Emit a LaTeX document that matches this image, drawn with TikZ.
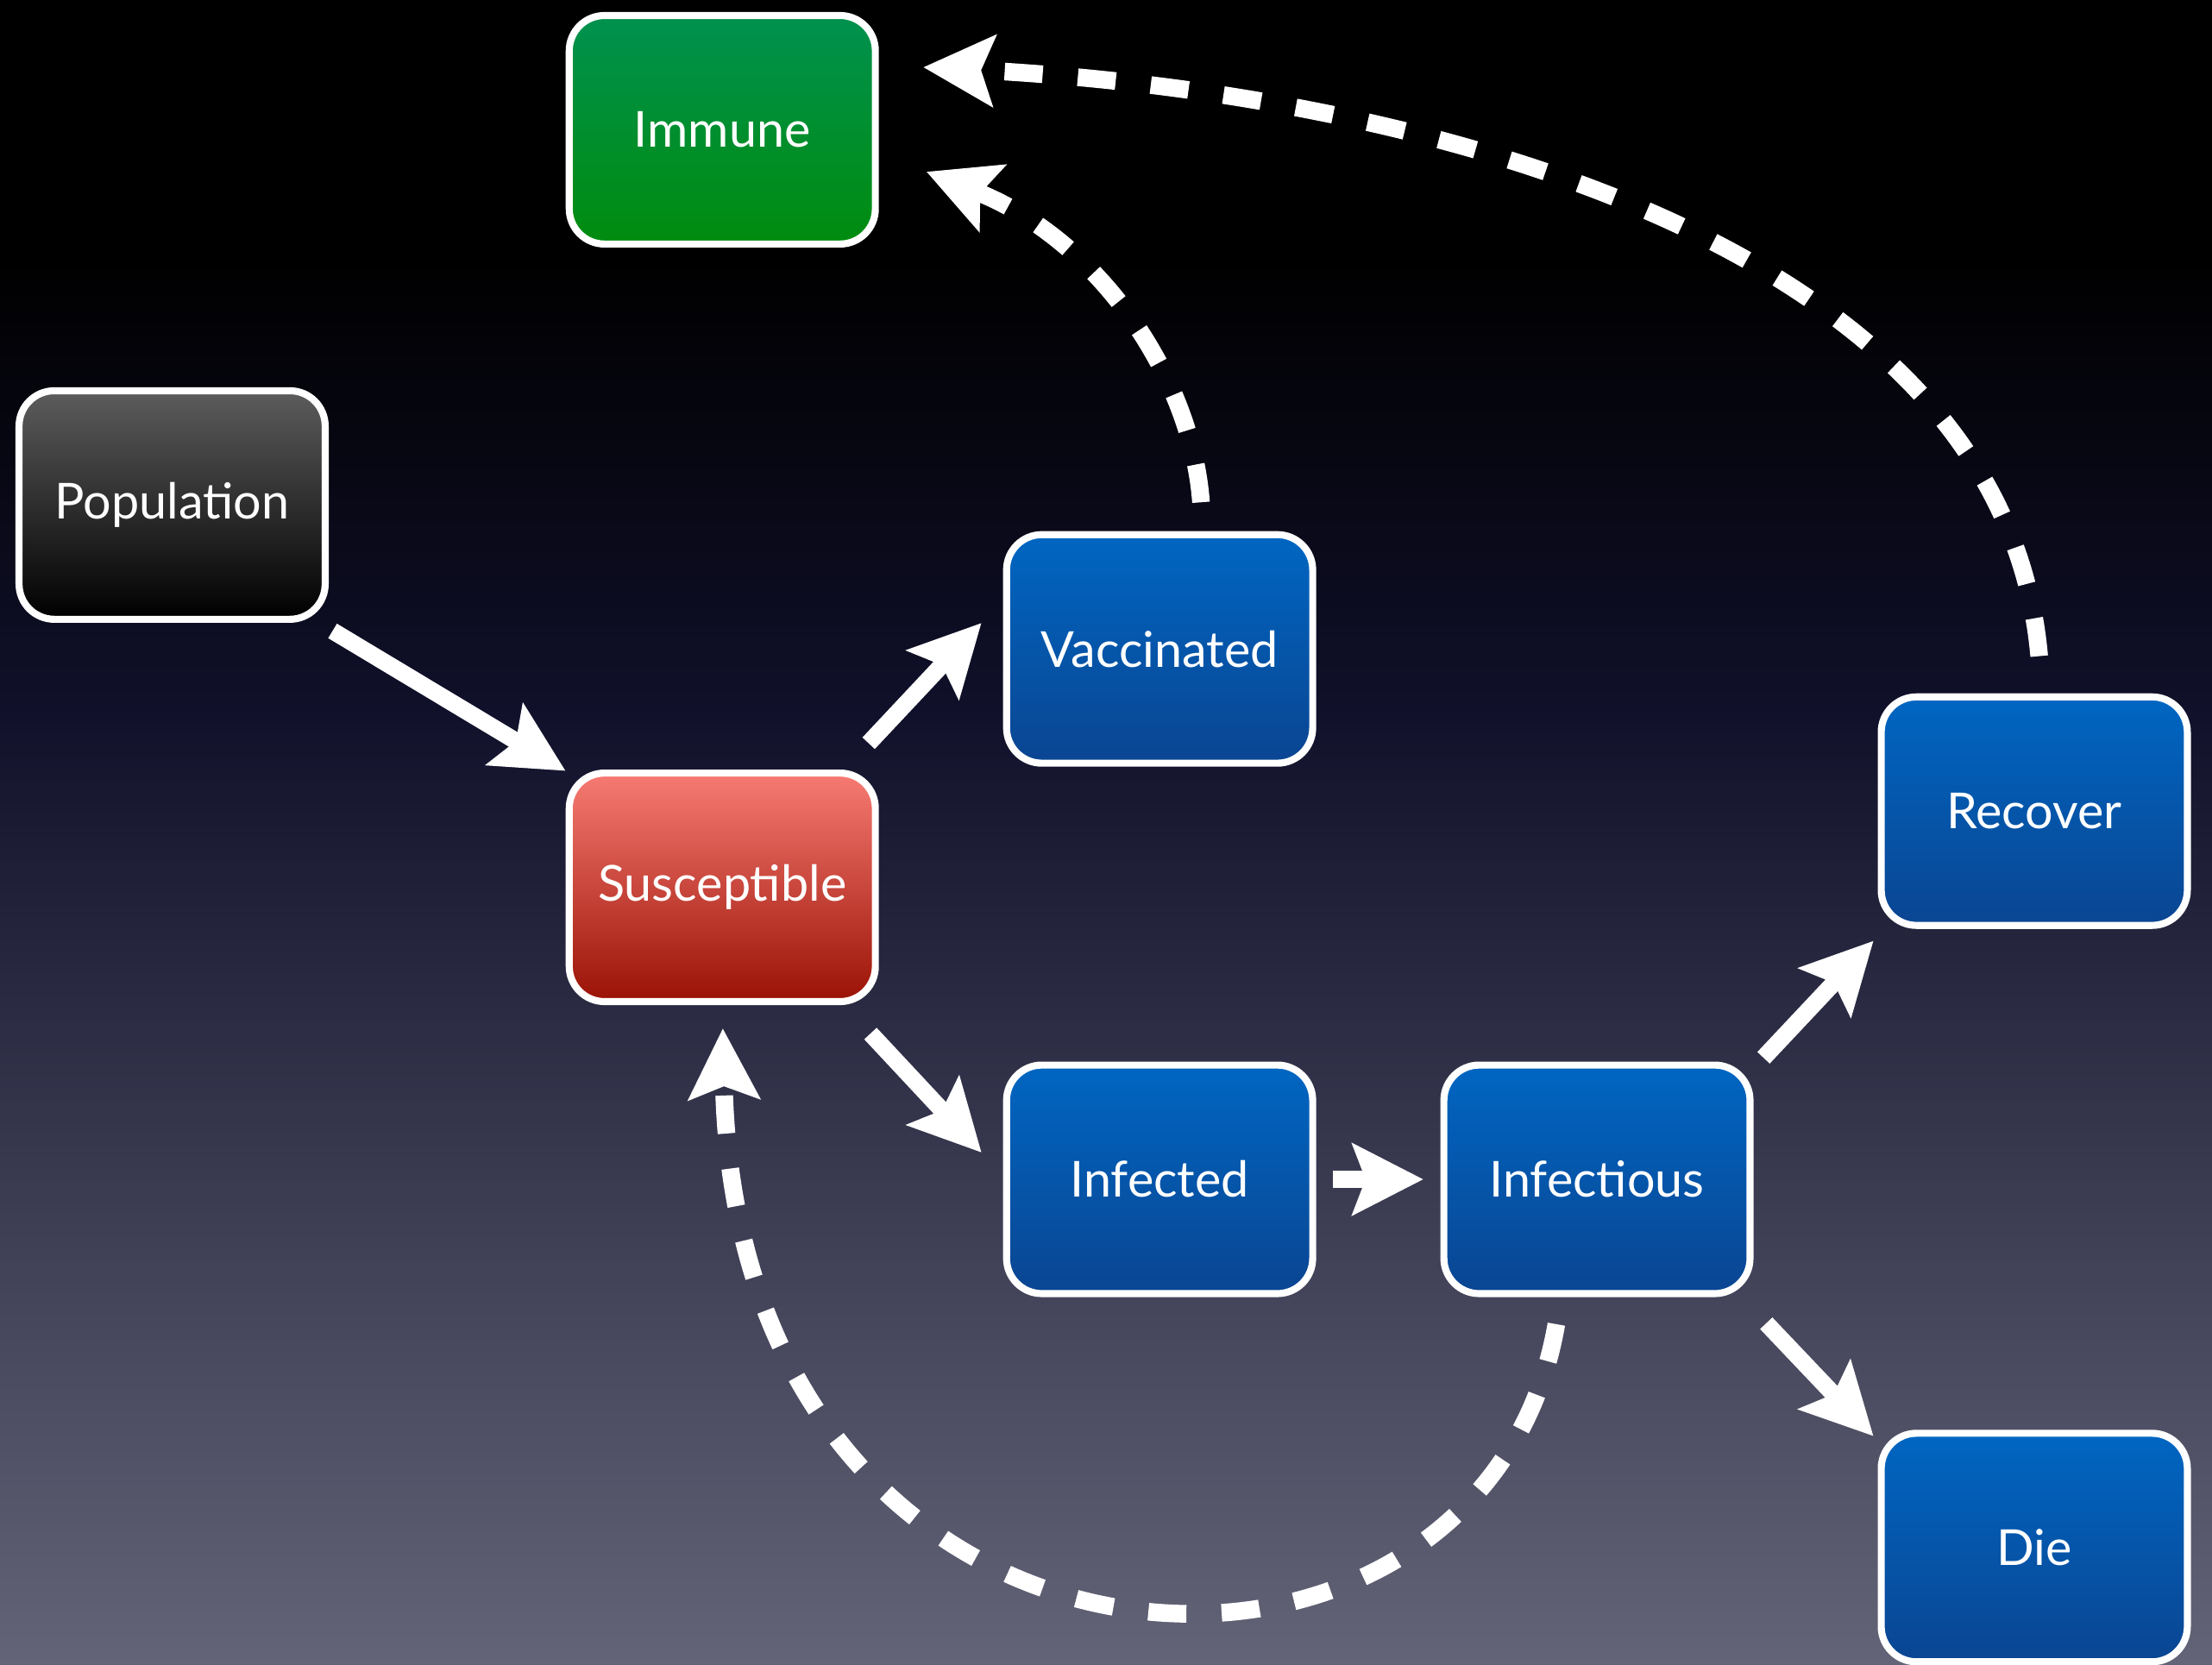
\documentclass[tikz,border=0pt]{standalone}
\usepackage{fontspec}
\setmainfont{Lato}
\usetikzlibrary{arrows.meta}

\definecolor{bgmid}{HTML}{10102A}
\definecolor{bgbot}{HTML}{646478}
\definecolor{immtop}{HTML}{00914F}
\definecolor{immbot}{HTML}{008C0E}
\definecolor{poptop}{HTML}{5C5C5C}
\definecolor{popbot}{HTML}{000000}
\definecolor{sustop}{HTML}{F77B73}
\definecolor{susbot}{HTML}{9A1205}
\definecolor{bluetop}{HTML}{0066C2}
\definecolor{bluebot}{HTML}{0A4592}

\tikzset{
  box/.style={draw=white, line width=1.42pt, rounded corners=0.25cm,
    minimum width=2.17cm, minimum height=1.62cm, inner sep=0pt, outer sep=0pt,
    text=white, font=\fontsize{10}{12}\selectfont},
  immbox/.style={box, top color=immtop, bottom color=immbot},
  popbox/.style={box, top color=poptop, bottom color=popbot},
  susbox/.style={box, top color=sustop, bottom color=susbot},
  bluebox/.style={box, top color=bluetop, bottom color=bluebot},
  flow/.style={draw=white, line width=0.12cm,
    -{Stealth[length=5mm,width=5mm,inset=0.9mm]}},
  back/.style={flow, line width=0.125cm, dash pattern=on 0.27cm off 0.25cm},
}

\begin{document}
\begin{tikzpicture}[x=1cm,y=1cm]
  \useasboundingbox (0,0) rectangle (15.68,11.80);

  % Backdrop
  \fill[black] (0,9.98) rectangle (15.68,11.80);
  \shade[top color=black, bottom color=bgmid] (0,6.78) rectangle (15.68,10.0);
  \shade[top color=bgmid, bottom color=bgbot] (0,0) rectangle (15.68,6.8);

  % Compartments
  \node[immbox]  (imm) at (5.12,10.88) {Immune};
  \node[popbox]  (pop) at (1.22,8.22)  {Population};
  \node[bluebox] (vac) at (8.22,7.20)  {Vaccinated};
  \node[susbox]  (sus) at (5.12,5.51)  {Susceptible};
  \node[bluebox] (rec) at (14.42,6.05) {Recover};
  \node[bluebox] (inf) at (8.22,3.44)  {Infected};
  \node[bluebox] (ifs) at (11.32,3.44) {Infectious};
  \node[bluebox] (die) at (14.42,0.83) {Die};

  % Flow arrows
  \draw[flow, shorten <=0.16cm, shorten >=0.03cm] (pop.-39) -- (sus.north west);
  \draw[flow, shorten <=0.29cm, shorten >=0.26cm] (sus.44) -- (vac.161.5);
  \draw[flow, shorten <=0.31cm, shorten >=0.26cm] (sus.-44.6) -- (inf.west);
  \draw[flow, shorten <=0.145cm, shorten >=0.145cm] (inf.east) -- (ifs.west);
  \draw[flow, shorten <=0.14cm, shorten >=0.15cm] (ifs.35.6) -- (rec.218);
  \draw[flow, shorten <=0.29cm, shorten >=0.08cm] (ifs.-39.6) -- (die.146.3);

  % Dashed returns
  \draw[back, shorten <=0.23cm, shorten >=0.39cm]
    ([xshift=0.31cm]vac.north) .. controls +(-0.08,1.10) and +(1.6,-0.64) .. (imm.-8);
  \draw[back, shorten <=0.29cm, shorten >=0.34cm]
    ([xshift=0.06cm]rec.north) .. controls +(-0.28,3.2) and +(3.9,-0.2) .. (imm.23);
  \draw[back, shorten <=0.22cm, shorten >=0.19cm]
    ([xshift=-0.25cm]ifs.south) .. controls +(-0.57,-3.28) and +(0.10,-5.15) .. (sus.south);
\end{tikzpicture}
\end{document}
